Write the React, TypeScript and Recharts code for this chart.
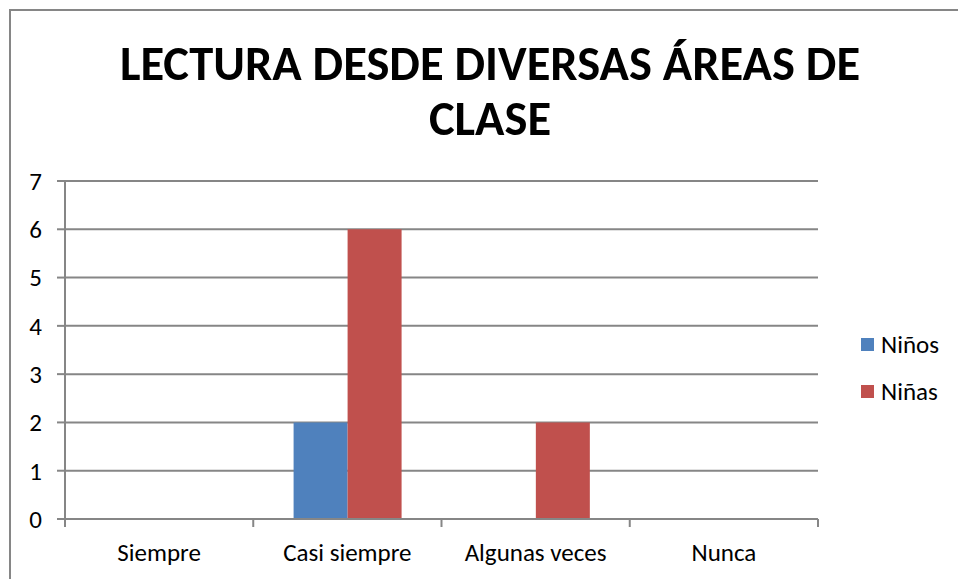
import React from "react";
import {
  BarChart,
  Bar,
  XAxis,
  YAxis,
  CartesianGrid,
} from "recharts";

// Categories and the two series.
const categories = ["Siempre", "Casi siempre", "Algunas veces", "Nunca"];
const ninos = [0, 2, 0, 0];
const ninas = [0, 6, 2, 0];
const yTicks = [0, 1, 2, 3, 4, 5, 6, 7];
const titleLines = ["LECTURA DESDE DIVERSAS ÁREAS DE", "CLASE"];
const legendItems = [
  { label: "Niños", key: "ninos" },
  { label: "Niñas", key: "ninas" },
];

const data = categories.map((name, i) => ({
  name,
  ninos: ninos[i],
  ninas: ninas[i],
}));

const FONT = "Calibri, Carlito, Lato, sans-serif";
const TEXT_SIZE = 25;
const AXIS_GRAY = "#868686";
const COLORS: Record<string, string> = { ninos: "#4F81BD", ninas: "#C0504D" };

if (typeof document !== "undefined") {
  document.body.style.margin = "0";
}

/**
 * Excel-style category tick: label under the band centre, tick marks on the
 * band edges rather than at the centre.
 */
function CategoryTick(props: any) {
  const { x, y, payload, index, width, visibleTicksCount } = props;
  const half = width / visibleTicksCount / 2;
  const top = y - 8;
  const last = index === visibleTicksCount - 1;
  return (
    <g>
      <line x1={x - half} x2={x - half} y1={top} y2={y} stroke={AXIS_GRAY} strokeWidth={2} />
      {last && (
        <line x1={x + half} x2={x + half} y1={top} y2={y} stroke={AXIS_GRAY} strokeWidth={2} />
      )}
      <text
        x={x}
        y={y + 34}
        textAnchor="middle"
        fontSize={TEXT_SIZE}
        fontFamily={FONT}
        fill="#000"
      >
        {payload.value}
      </text>
    </g>
  );
}

function SideLegend() {
  return (
    <div
      style={{
        position: "absolute",
        left: 861,
        top: 321,
        fontFamily: FONT,
        fontSize: TEXT_SIZE,
        color: "#000",
      }}
    >
      {legendItems.map((it) => (
        <div
          key={it.key}
          style={{ display: "flex", alignItems: "center", height: 47 }}
        >
          <span
            style={{
              display: "inline-block",
              width: 13,
              height: 13,
              background: COLORS[it.key],
              marginRight: 7,
            }}
          />
          <span>{it.label}</span>
        </div>
      ))}
    </div>
  );
}

export default function App() {
  return (
    <div
      style={{
        position: "relative",
        width: 958,
        height: 579,
        overflow: "hidden",
        background: "#fff",
      }}
    >
      {/* chart-area frame, runs off the right and bottom like the source */}
      <div
        style={{
          position: "absolute",
          left: 9,
          top: 9,
          width: 1000,
          height: 1000,
          border: `2px solid ${AXIS_GRAY}`,
        }}
      />
      <svg
        width={958}
        height={150}
        style={{ position: "absolute", left: 0, top: 0 }}
      >
        <g transform="translate(490,0) scale(0.99,1)">
          <text
            x={0}
            y={80}
            textAnchor="middle"
            fontFamily={FONT}
            fontWeight="bold"
            fontSize={49}
            fill="#000"
          >
            {titleLines[0]}
          </text>
          <text
            x={0}
            y={135}
            textAnchor="middle"
            fontFamily={FONT}
            fontWeight="bold"
            fontSize={49}
            fill="#000"
          >
            {titleLines[1]}
          </text>
        </g>
      </svg>
      <div style={{ position: "absolute", left: 0, top: 0 }}>
        <BarChart
          width={958}
          height={579}
          data={data}
          margin={{ top: 181, right: 140, bottom: 0, left: 0 }}
          barCategoryGap="21.43%"
          barGap={0}
        >
          <CartesianGrid vertical={false} stroke={AXIS_GRAY} strokeWidth={2} />
          <XAxis
            dataKey="name"
            height={60}
            axisLine={{ stroke: AXIS_GRAY, strokeWidth: 2 }}
            tickLine={false}
            tickSize={8}
            tickMargin={0}
            interval={0}
            tick={<CategoryTick />}
          />
          <YAxis
            width={65}
            domain={[0, 7]}
            ticks={yTicks}
            interval={0}
            axisLine={{ stroke: AXIS_GRAY, strokeWidth: 2 }}
            tickLine={{ stroke: AXIS_GRAY, strokeWidth: 2 }}
            tickSize={8}
            tickMargin={15}
            tick={{ fontSize: TEXT_SIZE, fontFamily: FONT, fill: "#000" }}
          />
          {legendItems.map((it) => (
            <Bar
              key={it.key}
              dataKey={it.key}
              name={it.label}
              fill={COLORS[it.key]}
              isAnimationActive={false}
            />
          ))}
        </BarChart>
      </div>
      <SideLegend />
    </div>
  );
}
